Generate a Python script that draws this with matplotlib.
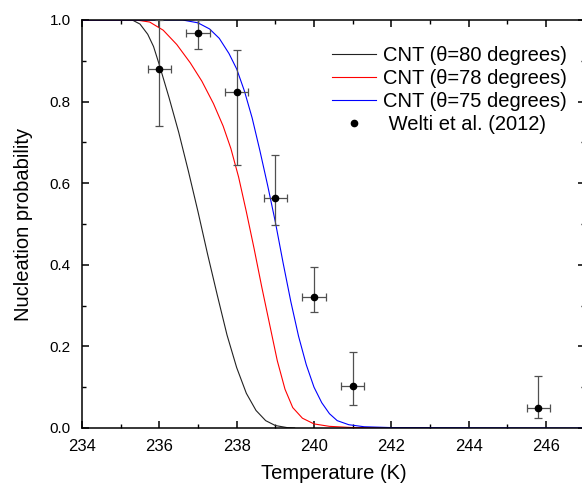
import numpy as np
import matplotlib
matplotlib.use("Agg")
import matplotlib.pyplot as plt
from matplotlib.ticker import MultipleLocator

plt.rcParams['font.family'] = ['Liberation Sans', 'DejaVu Sans']

# CNT curves
t_80 = [234.0, 235.3, 235.5, 235.7, 235.85, 236.0, 236.25, 236.5, 236.75, 237.0,
        237.25, 237.5, 237.75, 238.0, 238.25, 238.5, 238.75, 239.0, 239.3, 239.5]
p_80 = [1.0, 1.0, 0.99, 0.965, 0.935, 0.89, 0.81, 0.725, 0.63, 0.53,
        0.425, 0.325, 0.228, 0.148, 0.085, 0.043, 0.018, 0.006, 0.001, 0.0]

t_78 = [234.0, 235.4, 235.75, 236.1, 236.45, 236.8, 237.1, 237.4, 237.65, 237.85,
        238.05, 238.25, 238.45, 238.65, 238.85, 239.05, 239.25, 239.45, 239.7, 240.0,
        240.4, 241.0, 243.0]
p_78 = [1.0, 1.0, 0.995, 0.975, 0.94, 0.895, 0.85, 0.795, 0.74, 0.685,
        0.615, 0.53, 0.44, 0.345, 0.255, 0.165, 0.095, 0.05, 0.024, 0.01,
        0.004, 0.001, 0.0]

t_75 = [234.0, 236.6, 237.0, 237.3, 237.55, 237.8, 238.0, 238.2, 238.4, 238.6,
        238.8, 239.0, 239.2, 239.4, 239.6, 239.8, 240.0, 240.2, 240.4, 240.6,
        240.9, 241.3, 242.0, 247.0]
p_75 = [1.0, 1.0, 0.993, 0.978, 0.955, 0.918, 0.88, 0.826, 0.76, 0.68,
        0.595, 0.505, 0.405, 0.31, 0.225, 0.155, 0.1, 0.062, 0.035, 0.018,
        0.008, 0.003, 0.001, 0.0]

# Welti et al. (2012) measurements
welti_t = np.array([236.0, 237.0, 238.0, 239.0, 240.0, 241.0, 245.8])
welti_p = np.array([0.88, 0.968, 0.824, 0.563, 0.321, 0.102, 0.050])
welti_lo = np.array([0.74, 0.929, 0.645, 0.497, 0.284, 0.056, 0.025])
welti_hi = np.array([1.0, 1.0, 0.926, 0.668, 0.395, 0.186, 0.127])
welti_terr = 0.3

fig = plt.figure(figsize=(5.82, 4.83), dpi=100)
ax = fig.add_axes([0.1409, 0.1139, 0.8637, 0.8447])

ax.plot(t_80, p_80, color='#222222', lw=0.8, label='CNT (θ=80 degrees)')
ax.plot(t_78, p_78, color='#ff0000', lw=0.8, label='CNT (θ=78 degrees)')
ax.plot(t_75, p_75, color='#0000ff', lw=0.8, label='CNT (θ=75 degrees)')

ax.errorbar(welti_t, welti_p, yerr=[welti_p - welti_lo, welti_hi - welti_p],
            xerr=welti_terr, fmt='none', ecolor='#505050', elinewidth=0.9,
            capsize=3.2, capthick=0.9, zorder=3)
ax.plot(welti_t, welti_p, 'o', color='black', ms=4.5, zorder=4,
        label=' Welti et al. (2012)')

ax.set_xlim(234, 247)
ax.set_ylim(0, 1.0)
ax.xaxis.set_minor_locator(MultipleLocator(1))
ax.yaxis.set_minor_locator(MultipleLocator(0.1))
ax.set_xticks([234, 236, 238, 240, 242, 244, 246])
ax.set_yticks([0.0, 0.2, 0.4, 0.6, 0.8, 1.0])
ax.set_yticklabels(['0.0', '0.2', '0.4', '0.6', '0.8', '1.0'])

ax.tick_params(which='both', direction='in', top=True, right=True)
ax.tick_params(which='major', length=5, width=1.1)
ax.tick_params(which='minor', length=3, width=1.0)
ax.tick_params(axis='x', pad=8, labelsize=12)
ax.tick_params(axis='y', pad=8, labelsize=11)
for s in ax.spines.values():
    s.set_linewidth(1.1)

ax.set_xlabel('Temperature (K)', fontsize=14.5, labelpad=7)
ax.set_ylabel('Nucleation probability', fontsize=14.5, labelpad=12)

ax.legend(loc='upper left', bbox_to_anchor=(0.570, 1 - 46 / 483),
          bbox_transform=fig.transFigure, frameon=False, fontsize=14.5,
          borderpad=0, borderaxespad=0, handlelength=2.2, handletextpad=0.33,
          labelspacing=0.2)

fig.savefig('out.png', dpi=100)
